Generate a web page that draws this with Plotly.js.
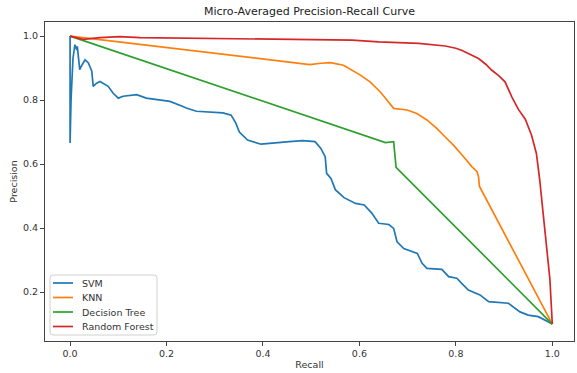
<!DOCTYPE html>
<html>
<head>
<meta charset="utf-8">
<script src="https://cdn.plot.ly/plotly-3.0.1.min.js"></script>
<style>html,body{margin:0;padding:0;background:#fff;}#chart{width:577px;height:373px;}</style>
</head>
<body>
<div id="chart"></div>
<script>
// SVM
const svmRecall = [0, 0, 0.002, 0.006, 0.010, 0.014, 0.015, 0.020, 0.023, 0.031, 0.038, 0.045, 0.048, 0.055, 0.062, 0.072, 0.079, 0.089, 0.100, 0.110, 0.138, 0.158, 0.186, 0.207, 0.234, 0.241, 0.262, 0.289, 0.317, 0.334, 0.344, 0.351, 0.368, 0.396, 0.427, 0.455, 0.482, 0.508, 0.520, 0.529, 0.532, 0.541, 0.550, 0.568, 0.592, 0.610, 0.626, 0.640, 0.661, 0.671, 0.678, 0.692, 0.720, 0.730, 0.740, 0.771, 0.785, 0.802, 0.812, 0.826, 0.850, 0.868, 0.909, 0.919, 0.933, 0.950, 0.971, 1.0];
const svmPrecision = [1.0, 0.666, 0.80, 0.93, 0.973, 0.957, 0.968, 0.895, 0.905, 0.926, 0.916, 0.890, 0.843, 0.853, 0.858, 0.848, 0.843, 0.822, 0.806, 0.812, 0.817, 0.806, 0.801, 0.796, 0.780, 0.775, 0.765, 0.762, 0.760, 0.753, 0.727, 0.700, 0.675, 0.662, 0.665, 0.670, 0.673, 0.670, 0.649, 0.623, 0.571, 0.555, 0.520, 0.495, 0.477, 0.472, 0.446, 0.415, 0.411, 0.399, 0.357, 0.336, 0.321, 0.290, 0.274, 0.271, 0.248, 0.243, 0.227, 0.206, 0.191, 0.170, 0.165, 0.154, 0.138, 0.128, 0.123, 0.100];
// KNN
const knnRecall = [0, 0.497, 0.520, 0.540, 0.567, 0.584, 0.602, 0.622, 0.643, 0.657, 0.671, 0.699, 0.719, 0.740, 0.761, 0.781, 0.795, 0.816, 0.833, 0.844, 0.847, 0.849, 1.0];
const knnPrecision = [1.0, 0.911, 0.915, 0.917, 0.909, 0.894, 0.878, 0.857, 0.826, 0.800, 0.774, 0.769, 0.758, 0.738, 0.711, 0.680, 0.659, 0.623, 0.592, 0.576, 0.560, 0.530, 0.100];
// Decision Tree
const dtRecall = [0, 0.654, 0.671, 0.676, 1.0];
const dtPrecision = [1.0, 0.667, 0.670, 0.590, 0.100];
// Random Forest
const rfRecall = [0, 0.027, 0.062, 0.103, 0.145, 0.200, 0.351, 0.500, 0.585, 0.640, 0.723, 0.778, 0.800, 0.813, 0.826, 0.847, 0.862, 0.874, 0.890, 0.902, 0.916, 0.930, 0.944, 0.957, 0.967, 0.974, 0.981, 0.988, 0.995, 1.0];
const rfPrecision = [1.0, 0.990, 0.995, 0.998, 0.995, 0.994, 0.993, 0.990, 0.9875, 0.982, 0.977, 0.969, 0.962, 0.955, 0.946, 0.930, 0.912, 0.894, 0.875, 0.857, 0.810, 0.770, 0.740, 0.690, 0.633, 0.550, 0.446, 0.342, 0.240, 0.100];

const seriesNames = ['SVM', 'KNN', 'Decision Tree', 'Random Forest'];
const seriesColors = ['#1f77b4', '#ff7f0e', '#2ca02c', '#d62728'];
const xTicks = [0, 0.2, 0.4, 0.6, 0.8, 1.0];
const yTicks = [0.2, 0.4, 0.6, 0.8, 1.0];

const xs = [svmRecall, knnRecall, dtRecall, rfRecall];
const ys = [svmPrecision, knnPrecision, dtPrecision, rfPrecision];
const font = 'DejaVu Sans, sans-serif';

const traces = seriesNames.map((n, i) => ({
  x: xs[i], y: ys[i], name: n, type: 'scatter', mode: 'lines',
  line: {color: seriesColors[i], width: 1.7}, showlegend: false
}));

const axisCommon = {
  showgrid: false, zeroline: false, showline: true, mirror: true,
  linecolor: '#444', linewidth: 1, ticks: 'outside', ticklen: 4, tickcolor: '#444',
  tickfont: {family: font, size: 9.5, color: '#333'}
};

// Compact matplotlib-style legend (paper coordinates of the plot area)
const W = 529, H = 319;
const bx0 = 5 / W, bx1 = 112 / W, by0 = 6 / H, by1 = 66 / H;
const rx = 3 / W, ry = 3 / H;
const boxPath = `M ${bx0 + rx} ${by0} L ${bx1 - rx} ${by0} Q ${bx1} ${by0} ${bx1} ${by0 + ry} L ${bx1} ${by1 - ry} Q ${bx1} ${by1} ${bx1 - rx} ${by1} L ${bx0 + rx} ${by1} Q ${bx0} ${by1} ${bx0} ${by1 - ry} L ${bx0} ${by0 + ry} Q ${bx0} ${by0} ${bx0 + rx} ${by0} Z`;
const shapes = [{
  type: 'path', xref: 'paper', yref: 'paper', path: boxPath,
  line: {color: '#d0d0d0', width: 1}, fillcolor: 'rgba(255,255,255,0.85)', layer: 'above'
}];
const annotations = [];
seriesNames.forEach((n, i) => {
  const yy = (58 - i * 14.5) / H;
  shapes.push({type: 'line', xref: 'paper', yref: 'paper', x0: 8 / W, x1: 28 / W, y0: yy, y1: yy,
    line: {color: seriesColors[i], width: 1.7}, layer: 'above'});
  annotations.push({xref: 'paper', yref: 'paper', x: 35 / W, y: yy, xanchor: 'left', yanchor: 'middle',
    text: n, showarrow: false, font: {family: font, size: 9.5, color: '#333'}});
});

const layout = {
  width: 577, height: 373,
  margin: {l: 45, r: 3, t: 22, b: 32},
  paper_bgcolor: '#fff', plot_bgcolor: '#fff',
  title: {text: 'Micro-Averaged Precision-Recall Curve', font: {family: font, size: 11, color: '#222'}, xref: 'paper', x: 0.5, xanchor: 'center', y: 0.97, yanchor: 'middle'},
  xaxis: Object.assign({}, axisCommon, {
    range: [-0.052, 1.045], tickvals: xTicks, ticktext: xTicks.map(v => v.toFixed(1)),
    title: {text: 'Recall', font: {family: font, size: 9.5, color: '#333'}, standoff: 2}
  }),
  yaxis: Object.assign({}, axisCommon, {
    range: [0.047, 1.044], tickvals: yTicks, ticktext: yTicks.map(v => v.toFixed(1)),
    title: {text: 'Precision', font: {family: font, size: 9.5, color: '#333'}, standoff: 3}
  }),
  shapes: shapes,
  annotations: annotations,
  showlegend: false
};

Plotly.newPlot('chart', traces, layout, {displayModeBar: false, staticPlot: true});
</script>
</body>
</html>
